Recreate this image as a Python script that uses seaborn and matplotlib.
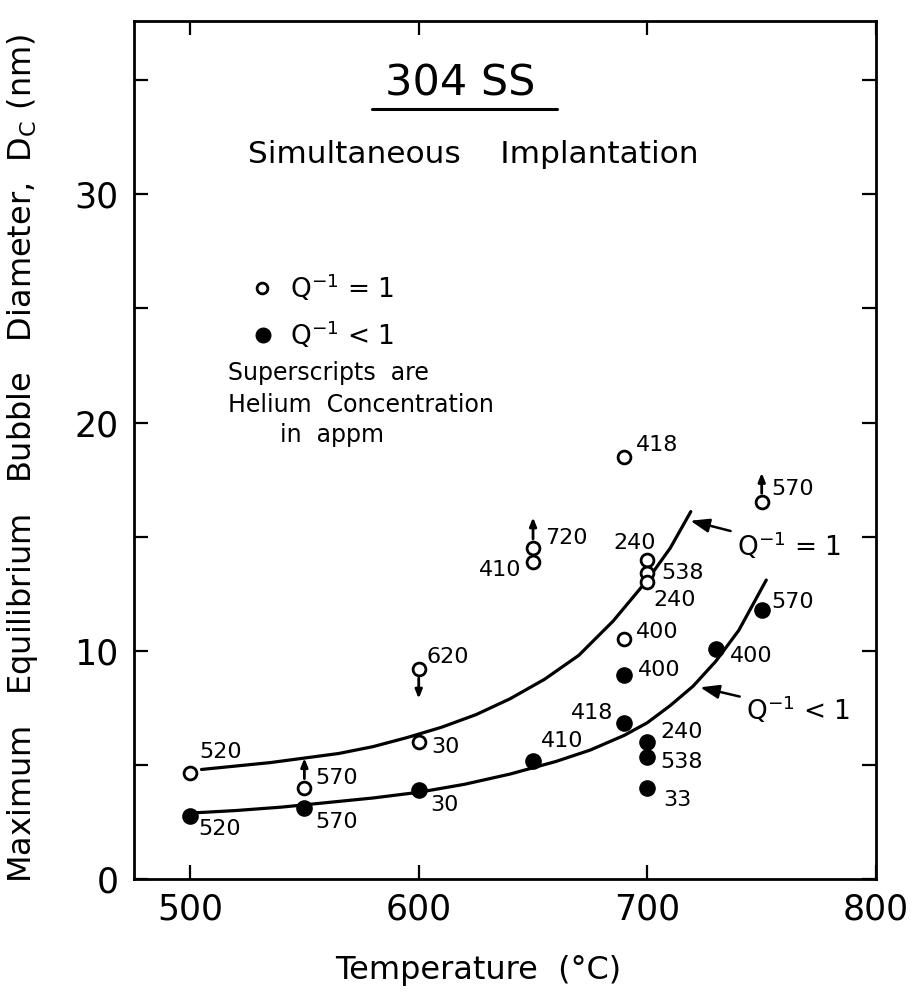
import matplotlib
matplotlib.use("Agg")
import matplotlib.pyplot as plt
from matplotlib.lines import Line2D
import seaborn as sns

# ---------------- data ----------------
open_T = [500, 550, 600, 600, 650, 650, 690, 690, 700, 700, 700, 750]
open_D = [4.65, 4.0, 9.2, 6.0, 14.5, 13.9, 18.5, 10.5, 14.0, 13.4, 13.0, 16.5]
open_He = ["520", "570", "620", "30", "720", "410", "418", "400", "240", "538", "240", "570"]

closed_T = [500, 550, 600, 650, 690, 690, 700, 700, 700, 730, 750]
closed_D = [2.75, 3.1, 3.9, 5.15, 8.95, 6.85, 6.0, 5.35, 4.0, 10.1, 11.8]
closed_He = ["520", "570", "30", "410", "400", "418", "240", "538", "33", "400", "570"]

upper_T = [505, 520, 535, 550, 565, 580, 595, 610, 625, 640, 655, 670, 685, 700, 710, 719]
upper_D = [4.8, 4.95, 5.1, 5.3, 5.5, 5.8, 6.2, 6.65, 7.2, 7.9, 8.75, 9.8, 11.3, 13.1, 14.5, 16.1]
lower_T = [502, 520, 540, 560, 580, 600, 620, 640, 660, 675, 690, 700, 710, 720, 730, 740, 752]
lower_D = [2.9, 3.0, 3.15, 3.35, 3.55, 3.8, 4.15, 4.6, 5.15, 5.65, 6.3, 6.85, 7.6, 8.45, 9.55, 10.9, 13.1]

# bound arrows: (T, D_from, D_to)
bound_arrows = [(550, 4.4, 5.3), (600, 8.8, 7.9), (650, 14.9, 15.85), (750, 16.9, 17.8)]

x_ticks = [500, 600, 700, 800]
y_ticks = [0, 5, 10, 15, 20, 25, 30, 35]
y_ticklabels = ["0", "", "10", "", "20", "", "30", ""]

# label offsets (pixels) and alignment for each point label
open_off = [(9, 21, "left"), (11, 10, "left"), (8, 12, "left"), (13, -5, "left"),
            (12, 10, "left"), (-12, -8, "right"), (11, 12, "left"), (11, 7, "left"),
            (-13, 17, "center"), (14, 0, "left"), (6, -18, "left"), (10, 13, "left")]
closed_off = [(8, -13, "left"), (11, -14, "left"), (12, -15, "left"), (8, 20, "left"),
              (13, 5, "left"), (-11, 10, "right"), (13, 10, "left"), (13, -5, "left"),
              (16, -12, "left"), (14, -7, "left"), (10, 8, "left")]

# ---------------- style ----------------
sns.set_style("ticks")
plt.rcParams["font.family"] = ["DejaVu Sans"]
plt.rcParams["mathtext.fontset"] = "dejavusans"
for k in ["text.color", "axes.labelcolor", "xtick.color", "ytick.color", "axes.edgecolor"]:
    plt.rcParams[k] = "black"

fig = plt.figure(figsize=(9.13, 9.93), dpi=100)
ax = fig.add_axes([0.1468, 0.1148, 0.8127, 0.8641])

PX = 72 / 100.0  # pixel -> points

sns.lineplot(x=upper_T, y=upper_D, ax=ax, color="black", lw=2.3, sort=False, estimator=None)
sns.lineplot(x=lower_T, y=lower_D, ax=ax, color="black", lw=2.3, sort=False, estimator=None)

sns.scatterplot(x=open_T, y=open_D, ax=ax, s=85, color="white", edgecolor="black",
                linewidth=2.0, zorder=4)
sns.scatterplot(x=closed_T, y=closed_D, ax=ax, s=120, color="black", edgecolor="black",
                linewidth=1.0, zorder=4)

for T, d0, d1 in bound_arrows:
    ax.annotate("", xy=(T, d1), xytext=(T, d0),
                arrowprops=dict(arrowstyle="-|>,head_length=0.5,head_width=0.2",
                                color="black", lw=2.0, shrinkA=0, shrinkB=0), zorder=3)

for T, D, lab, (dx, dy, ha) in zip(open_T, open_D, open_He, open_off):
    ax.annotate(lab, xy=(T, D), xytext=(dx * PX, dy * PX), textcoords="offset points",
                ha=ha, va="center", fontsize=16)
for T, D, lab, (dx, dy, ha) in zip(closed_T, closed_D, closed_He, closed_off):
    ax.annotate(lab, xy=(T, D), xytext=(dx * PX, dy * PX), textcoords="offset points",
                ha=ha, va="center", fontsize=16)

# curve labels with arrows
ax.annotate("Q$^{-1}$ = 1", xy=(718.8, 15.7), xytext=(739, 14.6), ha="left", va="center",
            fontsize=19,
            arrowprops=dict(arrowstyle="-|>,head_length=0.6,head_width=0.22", color="black",
                            lw=1.8, shrinkA=2, shrinkB=0))
ax.annotate("Q$^{-1}$ < 1", xy=(723.1, 8.4), xytext=(743, 7.4), ha="left", va="center",
            fontsize=19,
            arrowprops=dict(arrowstyle="-|>,head_length=0.6,head_width=0.22", color="black",
                            lw=1.8, shrinkA=2, shrinkB=0))

# titles
ax.text(0.4394, 0.9266, "304 SS", transform=ax.transAxes, ha="center", va="center", fontsize=31)
ax.add_line(Line2D([0.3208, 0.570], [0.8974, 0.8974], transform=ax.transAxes,
                   color="black", lw=2.2))
ax.text(0.457, 0.8438, "Simultaneous    Implantation", transform=ax.transAxes,
        ha="center", va="center", fontsize=22.5)

# in-plot legend
ax.scatter([0.1725], [0.6888], transform=ax.transAxes, s=60, facecolor="white",
           edgecolor="black", linewidth=2.0, zorder=5)
ax.scatter([0.1739], [0.634], transform=ax.transAxes, s=110, facecolor="black",
           edgecolor="black", zorder=5)
ax.text(0.2102, 0.6888, "Q$^{-1}$ = 1", transform=ax.transAxes, ha="left", va="center", fontsize=19)
ax.text(0.2102, 0.634, "Q$^{-1}$ < 1", transform=ax.transAxes, ha="left", va="center", fontsize=19)
ax.text(0.1267, 0.5897, "Superscripts  are", transform=ax.transAxes, ha="left", va="center", fontsize=17)
ax.text(0.1267, 0.5524, "Helium  Concentration", transform=ax.transAxes, ha="left", va="center", fontsize=17)
ax.text(0.1968, 0.5175, "in  appm", transform=ax.transAxes, ha="left", va="center", fontsize=17)

# axes
ax.set_xlim(475.5, 800)
ax.set_ylim(0, 37.6)
ax.set_xticks(x_ticks)
ax.set_xticklabels([str(t) for t in x_ticks])
ax.set_yticks(y_ticks)
ax.set_yticklabels(y_ticklabels)
ax.tick_params(axis="both", direction="in", length=10, width=1.6, top=True, right=True,
               labelsize=25, colors="black")
ax.tick_params(axis="x", pad=10)
ax.tick_params(axis="y", pad=11)
for sp in ax.spines.values():
    sp.set_visible(True)
    sp.set_linewidth(2.0)
    sp.set_color("black")

ax.set_xlabel("Temperature  (°C)", fontsize=23)
ax.set_ylabel("Maximum   Equilibrium   Bubble   Diameter,  D$_\\mathregular{C}$ (nm)", fontsize=23)
ax.xaxis.set_label_coords(0.4636, -0.0886)
ax.yaxis.set_label_coords(-0.1267, 0.4907)

fig.savefig("out.png", dpi=100)
